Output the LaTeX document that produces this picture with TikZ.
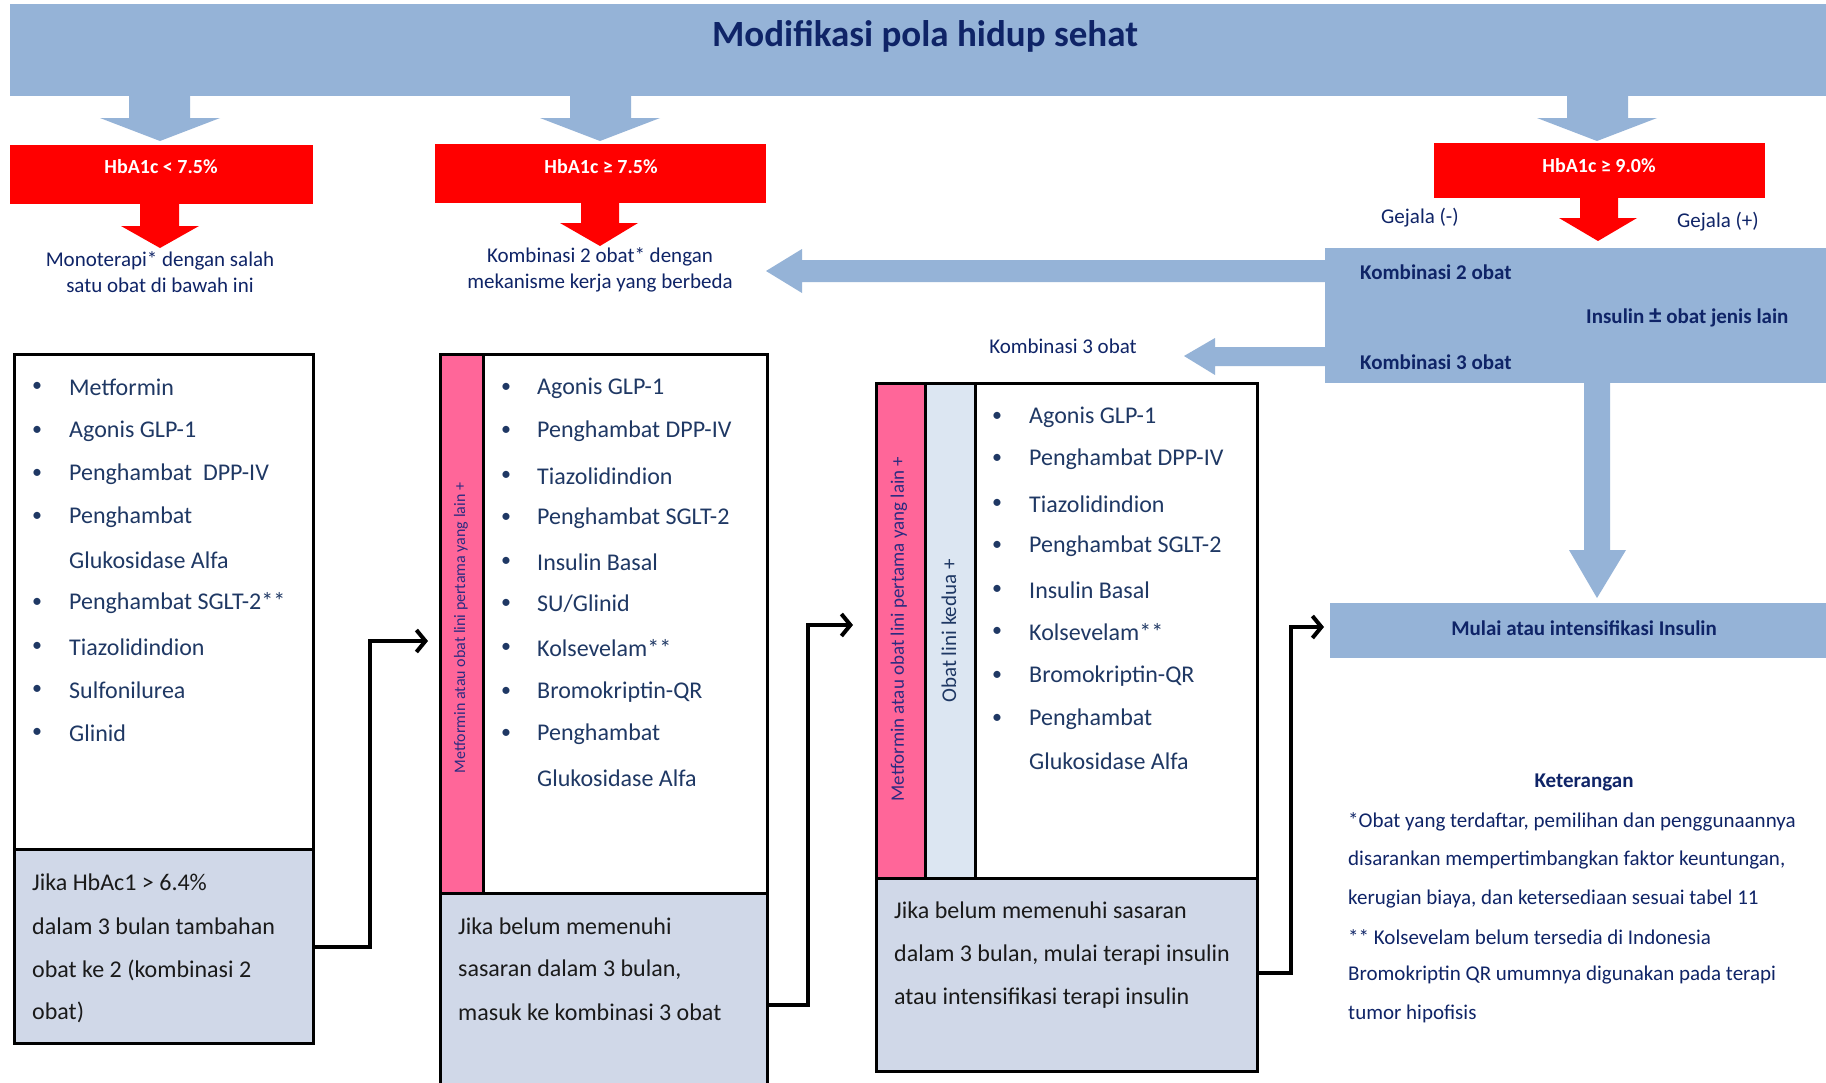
\documentclass[tikz,border=0pt]{standalone}
\usepackage{fontspec}
\setmainfont{Carlito}
\usetikzlibrary{arrows.meta}
\definecolor{bannerblue}{HTML}{95B3D7}
\definecolor{navy}{HTML}{0F2467}
\definecolor{itemblue}{HTML}{1F3864}
\definecolor{lowfill}{HTML}{D0D8E8}
\definecolor{pinkc}{HTML}{FF6699}
\definecolor{lightstrip}{HTML}{DCE6F2}
\definecolor{textdark}{HTML}{1A1A1A}
\definecolor{vtext}{HTML}{2B2B80}
\newcommand\myfs[1]{\fontsize{#1}{#1}\selectfont}
\begin{document}
\begin{tikzpicture}[x=1pt,y=-1pt,
  boxw/.style={draw=black, line width=3pt, inner sep=0, anchor=north west, fill=white},
  boxlow/.style={draw=black, line width=3pt, inner sep=0, anchor=north west, fill=lowfill},
  strip/.style={draw=black, line width=3pt, inner sep=0, anchor=north west},
  bluebox/.style={fill=bannerblue, inner sep=0, anchor=north west},
  redbox/.style={fill=red, inner sep=0, anchor=north west},
  item/.style={anchor=west, inner sep=0, text=itemblue, font=\myfs{24}},
  bul/.style={anchor=center, inner sep=0, text=itemblue, font=\myfs{20}},
  lowtxt/.style={anchor=west, inner sep=0, text=textdark, font=\myfs{24}},
  note/.style={anchor=west, inner sep=0, text=navy, font=\myfs{21}},
  ctxt/.style={inner sep=0, text=navy, font=\myfs{21}},
  btxt/.style={inner sep=0, text=navy, font=\myfs{21}\bfseries},
  redtxt/.style={inner sep=0, text=white, font=\myfs{20}\bfseries},
  vlab/.style={rotate=90, inner sep=0, text=vtext},
  conn/.style={draw=black, line width=4pt, -{Straight Barb[length=9pt,width=22pt,line width=4pt]}}
]
\useasboundingbox (0,0) rectangle (1826,1082);
\fill[white] (0,0) rectangle (1826,1082);

% banner
\node[bluebox, minimum width=1816pt, minimum height=92pt] (banner) at (10,4) {};
\node[inner sep=0, text=navy, font=\myfs{37}\bfseries] (title) at (925,36) {Modifikasi pola hidup sehat};

% blue arrows from banner
\fill[bannerblue] (129,94) -- (129,118) -- (100,118) -- (160,141) -- (220,118) -- (190,118) -- (190,94) -- cycle;
\fill[bannerblue] (570,94) -- (570,118) -- (540,118) -- (600,141) -- (660,118) -- (631,118) -- (631,94) -- cycle;
\fill[bannerblue] (1567,94) -- (1567,118) -- (1537,118) -- (1597,141) -- (1657,118) -- (1628,118) -- (1628,94) -- cycle;

% red boxes
\node[redbox, minimum width=303pt, minimum height=59pt] (r1) at (10,145) {};
\node[redtxt] (r1t) at (161,167) {HbA1c < 7.5\%};
\node[redbox, minimum width=331pt, minimum height=59pt] (r2) at (435,144) {};
\node[redtxt] (r2t) at (601,167) {HbA1c ≥ 7.5\%};
\node[redbox, minimum width=331pt, minimum height=55pt] (r3) at (1434,143) {};
\node[redtxt] (r3t) at (1599,166) {HbA1c ≥ 9.0\%};

% red arrows
\fill[red] (140,203) -- (140,226) -- (121,226) -- (160,248) -- (199,226) -- (179,226) -- (179,203) -- cycle;
\fill[red] (581,202) -- (581,223) -- (560,223) -- (600,246) -- (638,223) -- (619,223) -- (619,202) -- cycle;
\fill[red] (1580,197) -- (1580,218) -- (1559,218) -- (1598,241) -- (1637,218) -- (1618,218) -- (1618,197) -- cycle;

% texts under red boxes
\node[ctxt, align=center, font=\fontsize{21}{26}\selectfont] (mono) at (160,272) {Monoterapi* dengan salah\\satu obat di bawah ini};
\node[ctxt, align=center, font=\fontsize{21}{26}\selectfont] (komb2) at (600,270) {Kombinasi 2 obat* dengan\\mekanisme kerja yang berbeda};
\node[ctxt] (gmin) at (1420,218) {Gejala (-)};
\node[ctxt] (gplus) at (1718,222) {Gejala (+)};

% right blue box
\node[bluebox, minimum width=501pt, minimum height=135pt] (kbox) at (1325,248) {};
\node[btxt, anchor=west] (k2) at (1360,272) {Kombinasi 2 obat};
\node[btxt, anchor=west] (ins) at (1586,318) {Insulin {\myfs{25}±} obat jenis lain};
\node[btxt, anchor=west] (k3) at (1360,362) {Kombinasi 3 obat};
\node[ctxt] (k3lab) at (1063,346) {Kombinasi 3 obat};

% left arrows from right box
\fill[bannerblue] (1326,260) -- (802,260) -- (802,249) -- (766,271) -- (802,293) -- (802,282) -- (1326,282) -- cycle;
\fill[bannerblue] (1326,347) -- (1215,347) -- (1215,338) -- (1184,356) -- (1215,375) -- (1215,366) -- (1326,366) -- cycle;
% down arrow
\fill[bannerblue] (1584,382) -- (1584,550) -- (1569,550) -- (1597,598) -- (1626,550) -- (1610,550) -- (1610,382) -- cycle;

% Mulai box
\node[bluebox, minimum width=496pt, minimum height=55pt] (mulai) at (1330,603) {};
\node[btxt] (mulait) at (1584,628) {Mulai atau intensifikasi Insulin};

% column 1
\node[boxw, minimum width=299pt, minimum height=495pt] (b1up) at (13,353) {};
\node[boxlow, minimum width=299pt, minimum height=194pt] (b1low) at (13,848) {};
\foreach \y/\t [count=\i] in {387/{Metformin}, 431/{Agonis GLP-1}, 474/{Penghambat\ \ DPP-IV}, 517/{Penghambat}, 603/{Penghambat SGLT-2**}, 647/{Tiazolidindion}, 690/{Sulfonilurea}, 733/{Glinid}}{
  \node[bul] (c1b\i) at (37,\y) {•};
  \node[item] (c1i\i) at (69,\y) {\t};
}
\node[item] (c1x) at (69,560) {Glukosidase Alfa};
\node[lowtxt] (l1a) at (32,882) {Jika HbAc1 > 6.4\%};
\node[lowtxt] (l1b) at (32,926) {dalam 3 bulan tambahan};
\node[lowtxt] (l1c) at (32,970) {obat ke 2 (kombinasi 2};
\node[lowtxt] (l1d) at (32,1012) {obat)};

% column 2
\node[boxw, minimum width=327pt, minimum height=539pt] (b2up) at (439,353) {};
\node[strip, fill=pinkc, minimum width=43pt, minimum height=539pt] (p2) at (439,353) {};
\node[boxlow, minimum width=327pt, minimum height=200pt] (b2low) at (439,892) {};
\node[vlab, font=\myfs{16}] (v2) at (461,628) {Metformin atau obat lini pertama yang lain +};
\foreach \y/\t [count=\i] in {388/{Agonis GLP-1}, 431/{Penghambat DPP-IV}, 476/{Tiazolidindion}, 518/{Penghambat SGLT-2}, 562/{Insulin Basal}, 604/{SU/Glinid}, 648/{Kolsevelam**}, 692/{Bromokriptin-QR}, 734/{Penghambat}}{
  \node[bul] (c2b\i) at (506,\y) {•};
  \node[item] (c2i\i) at (537,\y) {\t};
}
\node[item] (c2x) at (537,778) {Glukosidase Alfa};
\node[lowtxt] (l2a) at (458,926) {Jika belum memenuhi};
\node[lowtxt] (l2b) at (458,970) {sasaran dalam 3 bulan,};
\node[lowtxt] (l2c) at (458,1012) {masuk ke kombinasi 3 obat};

% column 3
\node[boxw, minimum width=381pt, minimum height=495pt] (b3up) at (875,382) {};
\node[strip, fill=pinkc, minimum width=49pt, minimum height=495pt] (p3) at (875,382) {};
\node[strip, fill=lightstrip, minimum width=50pt, minimum height=495pt] (s3) at (924,382) {};
\node[boxlow, minimum width=381pt, minimum height=193pt] (b3low) at (875,877) {};
\node[vlab, font=\myfs{19}] (v3a) at (899,629) {Metformin atau obat lini pertama yang lain +};
\node[vlab, font=\myfs{21}, text=itemblue] (v3b) at (949,631) {Obat lini kedua +};
\foreach \y/\t [count=\i] in {417/{Agonis GLP-1}, 459/{Penghambat DPP-IV}, 504/{Tiazolidindion}, 546/{Penghambat SGLT-2}, 590/{Insulin Basal}, 632/{Kolsevelam**}, 676/{Bromokriptin-QR}, 719/{Penghambat}}{
  \node[bul] (c3b\i) at (997,\y) {•};
  \node[item] (c3i\i) at (1029,\y) {\t};
}
\node[item] (c3x) at (1029,761) {Glukosidase Alfa};
\node[lowtxt] (l3a) at (894,910) {Jika belum memenuhi sasaran};
\node[lowtxt] (l3b) at (894,955) {dalam 3 bulan, mulai terapi insulin};
\node[lowtxt] (l3c) at (894,998) {atau intensifikasi terapi insulin};

% connectors
\coordinate (c1s) at (312,947);
\coordinate (c1a) at (370,947);
\coordinate (c1b) at (370,641);
\coordinate (c1t) at (428,641);
\draw[conn] (b1low.east |- c1s) -- (c1a) -- (c1b) -- (c1t);
\coordinate (c2s) at (766,1005);
\coordinate (c2a) at (808,1005);
\coordinate (c2b) at (808,625);
\coordinate (c2t) at (853,625);
\draw[conn] (b2low.east |- c2s) -- (c2a) -- (c2b) -- (c2t);
\coordinate (c3s) at (1256,973);
\coordinate (c3a) at (1291,973);
\coordinate (c3b) at (1291,627);
\coordinate (c3t) at (1324,627);
\draw[conn] (b3low.east |- c3s) -- (c3a) -- (c3b) -- (c3t);

% Keterangan
\node[btxt] (ket) at (1584,782) {Keterangan};
\node[note] (n1) at (1348,822) {*Obat yang terdaftar, pemilihan dan penggunaannya};
\node[note] (n2) at (1348,860) {disarankan mempertimbangkan faktor keuntungan,};
\node[note] (n3) at (1348,899) {kerugian biaya, dan ketersediaan sesuai tabel 11};
\node[note] (n4) at (1348,937) {** Kolsevelam belum tersedia di Indonesia};
\node[note] (n5) at (1348,975) {Bromokriptin QR umumnya digunakan pada terapi};
\node[note] (n6) at (1348,1014) {tumor hipofisis};
\end{tikzpicture}
\end{document}
